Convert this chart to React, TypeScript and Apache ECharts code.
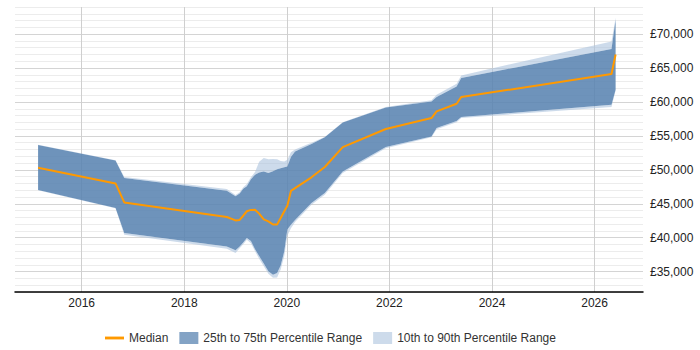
import React, { useEffect, useRef } from "react";
import * as echarts from "echarts";

// Time points (decimal years) shared by every series
const years = [
  2015.15, 2016.66, 2016.83, 2018.83, 2019.0, 2019.08, 2019.15, 2019.22, 2019.3,
  2019.38, 2019.46, 2019.55, 2019.64, 2019.73, 2019.81, 2019.88, 2019.95, 2020.01,
  2020.08, 2020.16, 2020.48, 2020.74, 2021.09, 2021.93, 2022.82, 2022.92, 2023.31,
  2023.4, 2026.33, 2026.41,
];

// Salary percentiles (GBP)
const p10 = [
  47000, 44350, 40440, 38370, 37750, 38450, 39050, 39700, 39200,
  38000, 36900, 35800, 34700, 34100, 34150, 35300, 37300, 40300,
  41400, 42300, 44850, 46350, 49550, 53200, 54800, 56000, 57000,
  57650, 59260, 61700,
];
const p25 = [
  47030, 44370, 40690, 38710, 38150, 38700, 39300, 39950, 39500,
  38300, 37300, 36200, 35050, 34550, 34800, 35900, 38000, 41200,
  41900, 42600, 45100, 46580, 49770, 53360, 54930, 56160, 57200,
  57790, 59600, 61800,
];
const median = [
  50310, 48000, 45200, 43050, 42550, 42620, 43240, 43900, 44100,
  44120, 43550, 42700, 42400, 41950, 41950, 42900, 43900, 44700,
  46900, 47300, 48900, 50420, 53360, 56020, 57640, 58610, 59750,
  60730, 64120, 67000,
];
const p75 = [
  53660, 51390, 48800, 46920, 46100, 46500, 47200, 47600, 48600,
  49280, 49600, 49750, 49550, 49800, 50100, 50250, 50400, 50500,
  51900, 52700, 53800, 54790, 56990, 59200, 60090, 60740, 62300,
  63530, 67810, 72130,
];
const p90 = [
  53700, 51420, 48950, 47170, 46300, 46700, 47450, 47900, 48900,
  49700, 51200, 51750, 51550, 51600, 51550, 51300, 51250, 51500,
  52600, 53000, 54000, 54850, 57000, 59250, 60250, 61070, 62700,
  63920, 68930, 72400,
];

const yearTicks = [2016, 2018, 2020, 2022, 2024, 2026];
const salaryTicks = [35000, 40000, 45000, 50000, 55000, 60000, 65000, 70000];

const MEDIAN_NAME = "Median";
const IQR_NAME = "25th to 75th Percentile Range";
const OUTER_NAME = "10th to 90th Percentile Range";

const FONT = "'Liberation Sans', Arial, Helvetica, sans-serif";
const DARK_BAND = "rgba(90,132,178,0.88)";
const LIGHT_BAND = "rgba(172,195,222,0.6)";
const ORANGE = "#ff9900";

const money = (v: number) => "£" + String(v).replace(/\B(?=(\d{3})+(?!\d))/g, ",");

// Closed outline between two percentile curves, projected through the axes
function bandPoints(api: any, lo: number[], hi: number[]) {
  const top = years.map((x, i) => api.coord([x, hi[i]]));
  const bottom = years.map((x, i) => api.coord([x, lo[i]])).reverse();
  return top.concat(bottom);
}

export default function App() {
  const ref = useRef<HTMLDivElement>(null);

  useEffect(() => {
    document.body.style.margin = "0";
    if (!ref.current) return;
    const chart = echarts.init(ref.current, undefined, { renderer: "svg" });

    chart.setOption({
      animation: false,
      grid: { left: 15, right: 57, top: 7, bottom: 58, containLabel: false },
      legend: {
        left: 100,
        top: 327,
        itemWidth: 19,
        itemHeight: 12,
        itemGap: 11,
        symbolKeepAspect: true,
        textStyle: { fontFamily: FONT, fontSize: 12, color: "#333" },
        data: [
          { name: MEDIAN_NAME, icon: "path://M0,0 L20,0 L20,3 L0,3 Z", itemStyle: { color: ORANGE, borderWidth: 0 } },
          { name: IQR_NAME, icon: "rect", itemStyle: { color: "rgba(90,132,178,0.75)", borderWidth: 0 } },
          { name: OUTER_NAME, icon: "rect", itemStyle: { color: "rgba(172,195,222,0.6)", borderWidth: 0 } },
        ],
      },
      xAxis: {
        type: "value",
        min: 2014.7,
        max: 2026.944,
        axisLine: { show: true, lineStyle: { color: "#000", width: 1.5 } },
        axisTick: { show: false, customValues: yearTicks },
        axisLabel: {
          customValues: yearTicks,
          formatter: (v: number) => String(Math.round(v)),
          fontFamily: FONT,
          fontSize: 12,
          color: "#222",
          margin: 5,
        },
        splitLine: { show: true, lineStyle: { color: "#cfcfcf", width: 1 } },
      },
      yAxis: {
        type: "value",
        position: "right",
        min: 32000,
        max: 74000,
        interval: 1000,
        axisLine: { show: false },
        axisTick: { show: false },
        axisLabel: {
          customValues: salaryTicks,
          formatter: (v: number) => money(v),
          fontFamily: FONT,
          fontSize: 12,
          color: "#222",
          margin: 7,
        },
        splitLine: {
          show: true,
          lineStyle: {
            color: ["#ececec", "#ececec", "#ececec", "#d4d4d4", "#ececec"],
            width: 1,
          },
        },
      },
      series: [
        {
          type: "custom",
          name: OUTER_NAME,
          data: [[years[0], p90[0]]],
          itemStyle: { color: LIGHT_BAND },
          silent: true,
          z: 1,
          renderItem: (_params: any, api: any) => ({
            type: "group",
            children: [
              { type: "polygon", shape: { points: bandPoints(api, p10, p25) }, style: { fill: LIGHT_BAND } },
              { type: "polygon", shape: { points: bandPoints(api, p75, p90) }, style: { fill: LIGHT_BAND } },
            ],
          }),
        },
        {
          type: "custom",
          name: IQR_NAME,
          data: [[years[0], p75[0]]],
          itemStyle: { color: DARK_BAND },
          silent: true,
          z: 2,
          renderItem: (_params: any, api: any) => ({
            type: "polygon",
            shape: { points: bandPoints(api, p25, p75) },
            style: { fill: DARK_BAND },
          }),
        },
        {
          type: "line",
          name: MEDIAN_NAME,
          data: years.map((x, i) => [x, median[i]]),
          symbol: "none",
          showSymbol: false,
          z: 5,
          itemStyle: { color: ORANGE },
          lineStyle: { color: ORANGE, width: 2 },
        },
      ],
    });

    return () => chart.dispose();
  }, []);

  return <div ref={ref} style={{ width: 700, height: 350 }} />;
}
